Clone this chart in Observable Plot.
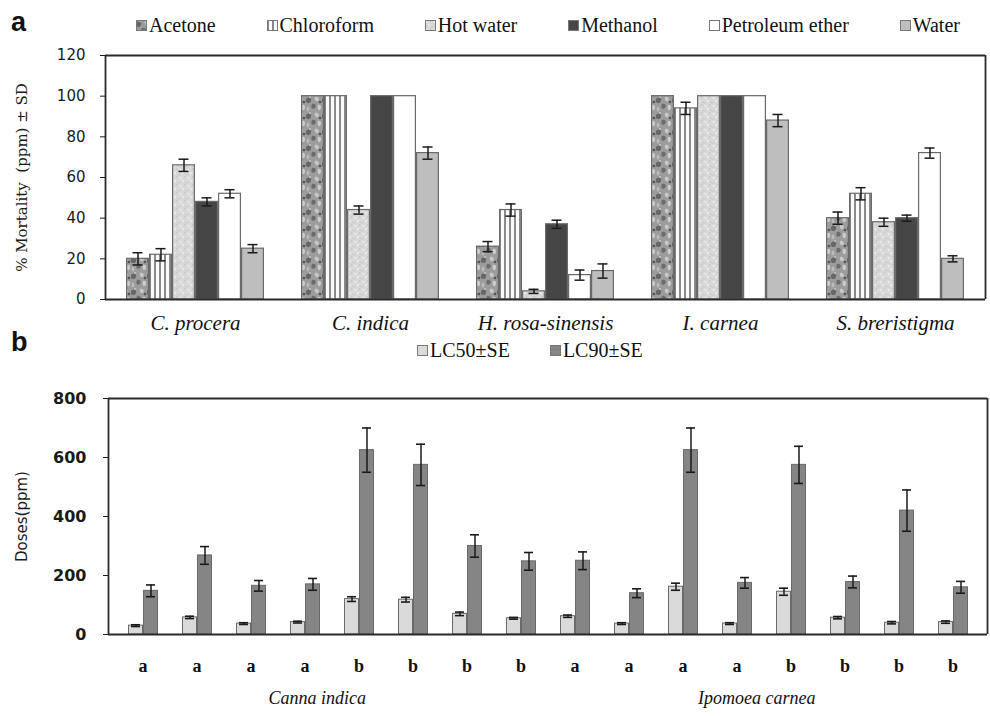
<!DOCTYPE html>
<html><head><meta charset="utf-8">
<script src="https://cdn.jsdelivr.net/npm/d3@7"></script>
<script src="https://cdn.jsdelivr.net/npm/@observablehq/plot@0.6"></script>
<style>
body{margin:0;background:#fff;}
#wrap{position:relative;width:990px;height:716px;overflow:hidden;background:#fff;color:#111;}
.abs{position:absolute;left:0;}
.letter{position:absolute;font-family:"Liberation Sans",Arial,sans-serif;font-weight:bold;font-size:27px;color:#111;}
.legend{position:absolute;display:flex;align-items:center;font-family:"Liberation Serif",serif;font-size:20px;color:#111;white-space:nowrap;}
.legend .item{display:flex;align-items:center;}
.legend svg{margin-right:2px;}
</style></head><body>
<svg width="0" height="0" style="position:absolute">
<defs>
<pattern id="pAcetone" patternUnits="userSpaceOnUse" width="16" height="16">
 <rect width="16" height="16" fill="#9c9c9c"/>
 <path d="M0 3 C3 0 6 2 5 5 C4 8 1 7 0 6Z" fill="#666"/>
 <path d="M9 1 C12 0 14 3 12 5 C10 6 8 4 9 1Z" fill="#c8c8c8"/>
 <path d="M6 8 C9 7 11 10 9 12 C7 14 4 12 6 8Z" fill="#6c6c6c"/>
 <path d="M12 9 C15 8 16 12 14 14 C12 15 11 12 12 9Z" fill="#cdcdcd"/>
 <path d="M1 11 C3 10 4 13 3 15 C1 16 0 14 1 11Z" fill="#bcbcbc"/>
 <circle cx="14" cy="6" r="1.3" fill="#555"/>
 <circle cx="4" cy="1" r="1" fill="#c4c4c4"/>
</pattern>
<pattern id="pChloroform" patternUnits="userSpaceOnUse" width="5" height="5">
 <rect width="5" height="5" fill="#fafafa"/>
 <rect width="2" height="5" fill="#8a8a8a"/>
</pattern>
<pattern id="pHot" patternUnits="userSpaceOnUse" width="8" height="8">
 <rect width="8" height="8" fill="#d8d8d8"/>
 <circle cx="1.5" cy="2" r="1" fill="#efefef"/>
 <circle cx="5.5" cy="1" r="0.8" fill="#c2c2c2"/>
 <circle cx="4" cy="5" r="1.1" fill="#ececec"/>
 <circle cx="7" cy="6.5" r="0.8" fill="#c4c4c4"/>
 <circle cx="1" cy="7" r="0.7" fill="#c8c8c8"/>
</pattern>
</defs>
</svg>
<div id="wrap"></div>
<script>
// ---------- Panel a data ----------
const plants = ["C. procera", "C. indica", "H. rosa-sinensis", "I. carnea", "S. breristigma"];
const solvents = ["Acetone", "Chloroform", "Hot water", "Methanol", "Petroleum ether", "Water"];
const acetone        = [20, 100, 26, 100, 40];
const acetoneSD      = [3, 0, 2.5, 0, 3];
const chloroform     = [22, 100, 44, 94, 52];
const chloroformSD   = [3, 0, 3, 3, 3];
const hotWater       = [66, 44, 4, 100, 38];
const hotWaterSD     = [3, 2, 1, 0, 2];
const methanol       = [48, 100, 37, 100, 40];
const methanolSD     = [2, 0, 2, 0, 1.5];
const petroleumEther = [52, 100, 12, 100, 72];
const petroleumSD    = [2, 0, 2.5, 0, 2.5];
const water          = [25, 72, 14, 88, 20];
const waterSD        = [2, 3, 3.5, 3, 1.5];
const mortalityTicks = [0, 20, 40, 60, 80, 100, 120];

// ---------- Panel b data ----------
const doseLetters = ["a","a","a","a","b","b","b","b","a","a","a","a","b","b","b","b"];
const lc50   = [30, 58, 37, 42, 120, 118, 70, 55, 62, 37, 162, 37, 145, 57, 40, 42];
const lc50SE = [3, 4, 3, 3, 8, 8, 6, 3, 4, 3, 12, 3, 12, 4, 4, 4];
const lc90   = [148, 268, 165, 170, 625, 575, 300, 248, 250, 140, 625, 175, 575, 178, 420, 160];
const lc90SE = [20, 30, 18, 20, 75, 70, 38, 30, 30, 15, 75, 18, 63, 20, 70, 20];
const doseSeries = ["LC50±SE", "LC90±SE"];
const doseTicks = [0, 200, 400, 600, 800];
const speciesNames = ["Canna indica", "Ipomoea carnea"];
const speciesAt = [3.8, 11.8];

// ---------- styles (not data) ----------
const solventFills = ["url(#pAcetone)", "url(#pChloroform)", "url(#pHot)", "#464646", "#ffffff", "#bebebe"];
const doseFills = ["#dadada", "#858585"];

const wrap = document.getElementById("wrap");
function place(node, top) { node.classList.add("abs"); node.style.top = top + "px"; wrap.appendChild(node); }

// ---------- Panel a ----------
const valsA = [acetone, chloroform, hotWater, methanol, petroleumEther, water];
const sdsA = [acetoneSD, chloroformSD, hotWaterSD, methanolSD, petroleumSD, waterSD];
const rowsA = plants.flatMap((p, i) => solvents.map((s, j) => ({plant: p, solvent: s, value: valsA[j][i], sd: sdsA[j][i]})));
const errTop = d => d.sd > 0 ? d.value + d.sd : NaN;
const errBot = d => d.sd > 0 ? d.value - d.sd : NaN;

const dimA = {width: 990, height: 340, marginTop: 55, marginBottom: 41, marginLeft: 105, marginRight: 5};
const plotA = Plot.plot({
  ...dimA,
  facet: {data: rowsA, x: "plant"},
  fx: {domain: plants, paddingInner: 0.19, paddingOuter: 0.1, axis: "bottom", label: null, tickSize: 0, tickPadding: 16},
  x: {domain: solvents, axis: null, padding: 0},
  y: {domain: [0, 120], axis: null},
  color: {domain: solvents, range: solventFills},
  style: {fontFamily: "Liberation Serif, serif", fontStyle: "italic", fontSize: "21px", color: "#111", background: "transparent"},
  marks: [
    Plot.barY(rowsA, {x: "solvent", y: "value", fill: "solvent", stroke: "#6a6a6a", strokeWidth: 1.2, insetLeft: 0.6, insetRight: 0.6}),
    Plot.ruleX(rowsA, {x: "solvent", y1: errBot, y2: errTop, stroke: "#1a1a1a", strokeWidth: 1.5}),
    Plot.tickY(rowsA, {x: "solvent", y: errTop, stroke: "#1a1a1a", strokeWidth: 1.5, insetLeft: 6.5, insetRight: 6.5}),
    Plot.tickY(rowsA, {x: "solvent", y: errBot, stroke: "#1a1a1a", strokeWidth: 1.5, insetLeft: 6.5, insetRight: 6.5})
  ]
});
place(plotA, 0);

const overA = Plot.plot({
  ...dimA,
  x: {domain: [0, 1], axis: null},
  y: {domain: [0, 120], ticks: mortalityTicks, tickSize: 5, tickPadding: 15, label: null},
  style: {fontFamily: "DejaVu Sans, sans-serif", fontSize: "15px", color: "#1a1a1a", background: "transparent"},
  marks: [
    Plot.ruleY([0, 120], {stroke: "#2a2a2a", strokeWidth: 1.8}),
    Plot.ruleX([0, 1], {stroke: "#2a2a2a", strokeWidth: 1.8}),
    Plot.text(["% Mortality  (ppm) ± SD"], {frameAnchor: "left", textAnchor: "middle", dx: -83, rotate: -90, fontFamily: "DejaVu Serif, serif", fontSize: 15, fill: "#1a1a1a"})
  ]
});
overA.style.pointerEvents = "none";
place(overA, 0);

// ---------- Panel b ----------
const rowsB = doseLetters.flatMap((l, i) => [
  {group: i, series: doseSeries[0], value: lc50[i], se: lc50SE[i]},
  {group: i, series: doseSeries[1], value: lc90[i], se: lc90SE[i]}
]);
const eTop = d => d.value + d.se, eBot = d => d.value - d.se;
const dimB = {width: 990, height: 376, marginTop: 58, marginBottom: 82, marginLeft: 108, marginRight: 3};
const plotB = Plot.plot({
  ...dimB,
  facet: {data: rowsB, x: "group"},
  fx: {domain: d3.range(doseLetters.length), paddingInner: 0.42, paddingOuter: 0.22, axis: "bottom", label: null, tickSize: 0, tickPadding: 25, tickFormat: i => doseLetters[i]},
  x: {domain: doseSeries, axis: null, padding: 0},
  y: {domain: [0, 800], axis: null},
  color: {domain: doseSeries, range: doseFills},
  style: {fontFamily: "Liberation Serif, serif", fontWeight: "bold", fontSize: "18px", color: "#111", background: "transparent"},
  marks: [
    Plot.barY(rowsB, {x: "series", y: "value", fill: "series", stroke: "#6a6a6a", strokeWidth: 1, insetLeft: 0.5, insetRight: 0.5}),
    Plot.ruleX(rowsB, {x: "series", y1: eBot, y2: eTop, stroke: "#1a1a1a", strokeWidth: 1.5}),
    Plot.tickY(rowsB, {x: "series", y: eTop, stroke: "#1a1a1a", strokeWidth: 1.6, insetLeft: 3, insetRight: 3}),
    Plot.tickY(rowsB, {x: "series", y: eBot, stroke: "#1a1a1a", strokeWidth: 1.6, insetLeft: 3, insetRight: 3})
  ]
});
place(plotB, 340);

const speciesRows = speciesNames.map((n, i) => ({name: n, at: speciesAt[i]}));
const overB = Plot.plot({
  ...dimB,
  x: {domain: [0, doseLetters.length], axis: null},
  y: {domain: [0, 800], ticks: doseTicks, tickSize: 5, tickPadding: 17, label: null},
  style: {fontFamily: "DejaVu Sans, sans-serif", fontWeight: "bold", fontSize: "16px", color: "#1a1a1a", background: "transparent"},
  marks: [
    Plot.ruleY([0, 800], {stroke: "#2a2a2a", strokeWidth: 1.8}),
    Plot.ruleX([0, doseLetters.length], {stroke: "#2a2a2a", strokeWidth: 1.8}),
    Plot.text(["Doses(ppm)"], {frameAnchor: "left", textAnchor: "middle", dx: -86, rotate: -90, fontFamily: "DejaVu Sans, sans-serif", fontWeight: "normal", fontSize: 15, fill: "#1a1a1a"}),
    Plot.text(speciesRows, {x: "at", text: "name", frameAnchor: "bottom", dy: 69, fontFamily: "Liberation Serif, serif", fontStyle: "italic", fontWeight: "normal", fontSize: 18, fill: "#111"})
  ]
});
overB.style.pointerEvents = "none";
place(overB, 340);

// ---------- legends & panel letters ----------
function swatch(fill) {
  return `<svg width="11" height="11"><rect x="0.5" y="0.5" width="10" height="10" fill="${fill}" stroke="#777" stroke-width="1"/></svg>`;
}
const legA = document.createElement("div");
legA.className = "legend";
legA.style.left = "136px"; legA.style.top = "14px"; legA.style.width = "824px"; legA.style.justifyContent = "space-between";
legA.innerHTML = solvents.map((s, i) => `<span class="item">${swatch(solventFills[i])}<span>${s}</span></span>`).join("");
wrap.appendChild(legA);

const legB = document.createElement("div");
legB.className = "legend";
legB.style.left = "417px"; legB.style.top = "339px"; legB.style.gap = "40px";
legB.innerHTML = doseSeries.map((s, i) => `<span class="item">${swatch(doseFills[i])}<span>${s}</span></span>`).join("");
wrap.appendChild(legB);

const la = document.createElement("div"); la.className = "letter"; la.textContent = "a"; la.style.left = "11px"; la.style.top = "7px"; wrap.appendChild(la);
const lb = document.createElement("div"); lb.className = "letter"; lb.textContent = "b"; lb.style.left = "11px"; lb.style.top = "327px"; wrap.appendChild(lb);
</script>
</body></html>
